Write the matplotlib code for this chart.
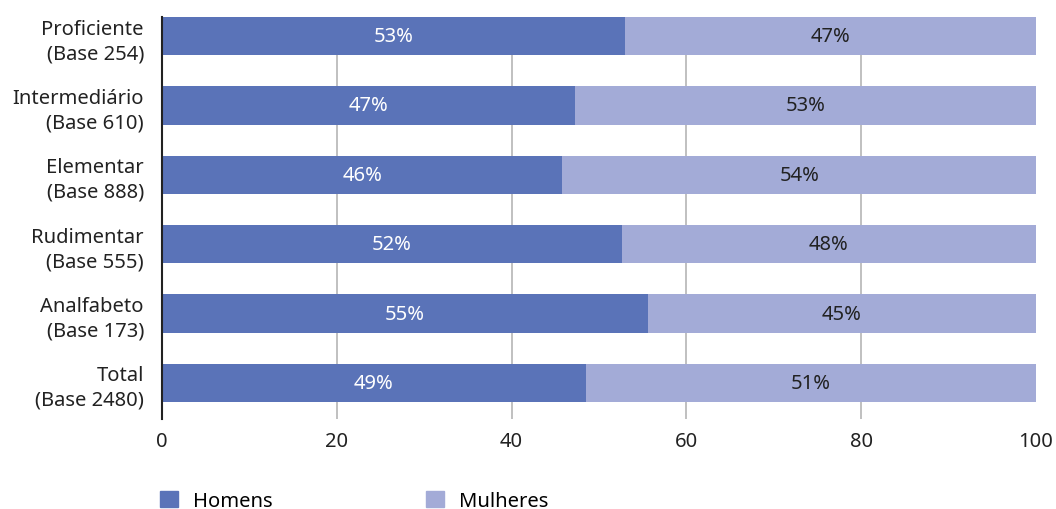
import matplotlib.pyplot as plt
from matplotlib.patches import Patch

plt.rcParams['font.family'] = ['Noto Sans', 'DejaVu Sans']

categories = ['Proficiente\n(Base 254)', 'Intermediário\n(Base 610)', 'Elementar\n(Base 888)',
              'Rudimentar\n(Base 555)', 'Analfabeto\n(Base 173)', 'Total\n(Base 2480)']
homens = [53.0, 47.3, 45.8, 52.6, 55.6, 48.5]
mulheres = [100 - v for v in homens]
homens_labels = ['53%', '47%', '46%', '52%', '55%', '49%']
mulheres_labels = ['47%', '53%', '54%', '48%', '45%', '51%']

c_h = '#5a73b8'
c_m = '#a3abd7'
fs = 14.5

fig = plt.figure(figsize=(10.56, 5.10), dpi=100)
ax = fig.add_axes([0.1534, 0.1765, 0.8277, 0.7882])

y = list(range(len(categories)))
ax.barh(y, homens, height=0.55, color=c_h, zorder=2)
ax.barh(y, mulheres, left=homens, height=0.55, color=c_m, zorder=2)

for i in y:
    ax.text(homens[i] / 2, i, homens_labels[i], ha='center', va='center',
            color='white', fontsize=fs, zorder=3)
    ax.text(homens[i] + mulheres[i] / 2, i, mulheres_labels[i], ha='center', va='center',
            color='#222222', fontsize=fs, zorder=3)

ax.set_xlim(0, 100)
ax.set_ylim(len(categories) - 1 + 0.52, -0.275)
ax.set_yticks(y)
ax.set_yticklabels(categories, fontsize=fs, color='#222222', linespacing=1.3)
ax.set_xticks([0, 20, 40, 60, 80, 100])
ax.tick_params(axis='x', labelsize=fs, colors='#222222', length=0, pad=9)
ax.tick_params(axis='y', length=0, pad=13)
for g in [20, 40, 60, 80]:
    ax.axvline(g, color='#b5b5b5', lw=1.2, zorder=1)
for s in ['top', 'right', 'bottom']:
    ax.spines[s].set_visible(False)
ax.spines['left'].set_color('#222222')
ax.spines['left'].set_linewidth(1.5)

handles = [Patch(color=c_h, label='Homens'), Patch(color=c_m, label='Mulheres')]
fig.legend(handles=handles, loc='center left', bbox_to_anchor=(0.1345, 0.016), ncol=2,
           frameon=False, fontsize=fs, handlelength=0.9, handleheight=0.9,
           columnspacing=7.6, handletextpad=0.75)

fig.savefig('out.png', dpi=100)
